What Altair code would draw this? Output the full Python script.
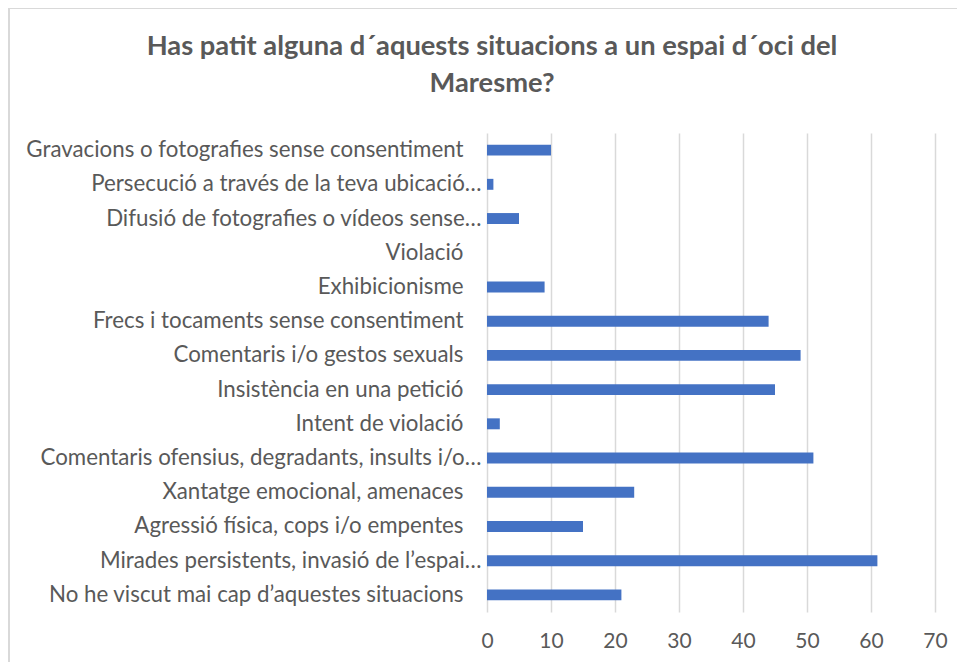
import altair as alt
import pandas as pd

categories = [
    "Gravacions o fotografies sense consentiment",
    "Persecució a través de la teva ubicació…",
    "Difusió de fotografies o vídeos sense…",
    "Violació",
    "Exhibicionisme",
    "Frecs i tocaments sense consentiment",
    "Comentaris i/o gestos sexuals",
    "Insistència en una petició",
    "Intent de violació",
    "Comentaris ofensius, degradants, insults i/o…",
    "Xantatge emocional, amenaces",
    "Agressió física, cops i/o empentes",
    "Mirades persistents, invasió de l’espai…",
    "No he viscut mai cap d’aquestes situacions",
]
values = [10, 1, 5, 0, 9, 44, 49, 45, 2, 51, 23, 15, 61, 21]
x_ticks = [0, 10, 20, 30, 40, 50, 60, 70]
title_lines = [
    "Has patit alguna d´aquests situacions a un espai d´oci del",
    "Maresme?",
]

df = pd.DataFrame({"situacio": categories, "n": values})
one = pd.DataFrame({"k": [0]})

TEXT = "#595959"
GRID = "#D9D9D9"
FONT = "Lato"

bars = alt.Chart(df).mark_bar(color="#4472C4").encode(
    x=alt.X(
        "n:Q",
        scale=alt.Scale(domain=[0, 70], nice=False, zero=True),
        axis=alt.Axis(
            values=x_ticks,
            title=None,
            grid=True,
            gridColor=GRID,
            gridWidth=1.5,
            domain=False,
            ticks=False,
            labelFont=FONT,
            labelFontSize=21,
            labelColor=TEXT,
            labelPadding=18,
            labelBaseline="top",
            labelFlush=False,
        ),
    ),
    y=alt.Y(
        "situacio:N",
        sort=categories,
        scale=alt.Scale(paddingInner=0.68, paddingOuter=0.34),
        axis=alt.Axis(
            title=None,
            domain=False,
            ticks=False,
            grid=False,
            labelFont=FONT,
            labelFontSize=22.3,
            labelColor=TEXT,
            labelLimit=0,
            labelPadding={
                "condition": {"test": "indexof(datum.label, '…') >= 0", "value": 6},
                "value": 24,
            },
        ),
    ),
)

border_left = alt.Chart(one).mark_rule(color=GRID, strokeWidth=2).encode(
    x=alt.value(-478), y=alt.value(-125), y2=alt.value(560)
)
border_top = alt.Chart(one).mark_rule(color=GRID, strokeWidth=2).encode(
    x=alt.value(-478), x2=alt.value(490), y=alt.value(-125)
)

title = alt.Chart(one).mark_text(
    font=FONT,
    fontSize=27.3,
    fontWeight="bold",
    color=TEXT,
    align="center",
    baseline="alphabetic",
    lineHeight=37,
).encode(x=alt.value(5), y=alt.value(-78), text=alt.value(title_lines))

chart = (
    alt.layer(border_left, border_top, bars, title)
    .properties(
        width=448,
        height=479,
        autosize=alt.AutoSizeParams(type="none"),
        padding={"left": 479, "top": 125, "right": 22, "bottom": 50},
        background="white",
    )
    .configure_view(stroke=None)
)

chart.save("out.html", embed_options={"renderer": "svg", "actions": False})
